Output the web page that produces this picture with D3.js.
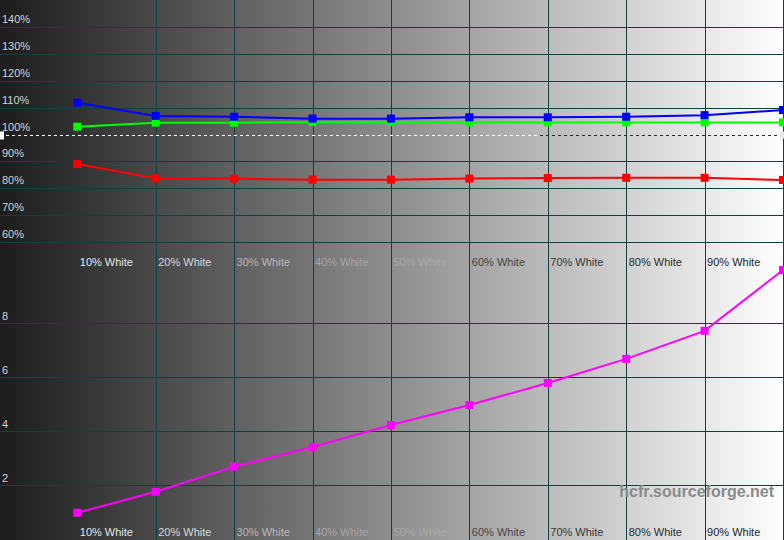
<!DOCTYPE html>
<html><head><meta charset="utf-8">
<script src="https://cdn.jsdelivr.net/npm/d3@7"></script>
<style>html,body{margin:0;padding:0;background:#fff;}svg{display:block;}</style>
</head><body>
<svg id="c" width="784" height="540"></svg>
<script>
const categories = [10,20,30,40,50,60,70,80,90,100];
const catLabels = ["10% White","20% White","30% White","40% White","50% White","60% White","70% White","80% White","90% White"];
const catLabelColors = ["#e4e4e4","#d8d8d8","#b8b8b8","#a6a6a6","#a8a8a8","#454545","#383838","#2c2c2c","#1e1e1e"];
const redVals   = [89.0,83.7,83.6,83.2,83.2,83.6,83.8,83.9,83.9,83.1];
const greenVals = [102.9,104.4,104.4,104.6,104.6,104.5,104.5,104.5,104.5,104.5];
const blueVals  = [111.8,106.9,106.6,105.9,105.9,106.4,106.4,106.6,107.2,109.1];
const deltaE    = [0.97,1.75,2.68,3.41,4.22,4.96,5.78,6.67,7.71,9.96];
const topTicks = [60,70,80,90,110,120,130,140];
const topLabelTicks = [60,70,80,90,100,110,120,130,140];
const botTicks = [2,4,6,8];

const W = 784, H = 540;
const svg = d3.select("#c");
const defs = svg.append("defs");
const grad = defs.append("linearGradient").attr("id","bg").attr("x1","0").attr("x2","1").attr("y1","0").attr("y2","0");
grad.append("stop").attr("offset","0").attr("stop-color","#1c1c1c");
grad.append("stop").attr("offset","1").attr("stop-color","#ffffff");
svg.append("rect").attr("width",W).attr("height",H).attr("fill","url(#bg)");

const x = d3.scaleLinear().domain([10,100]).range([77.3,783]);
const yTop = d3.scaleLinear().domain([50,150]).range([269,0]);
const yBot = d3.scaleLinear().domain([0,10]).range([539,269]);
const gridColor = "#163e3e";
const font = "'Liberation Sans', Arial, sans-serif";

// vertical gridlines
svg.append("g").selectAll("line").data(categories).join("line")
  .attr("x1",d=>Math.round(x(d))+0.5).attr("x2",d=>Math.round(x(d))+0.5)
  .attr("y1",0).attr("y2",H).attr("stroke",gridColor).attr("stroke-width",1);

// horizontal gridlines top
svg.append("g").selectAll("line").data(topTicks).join("line")
  .attr("x1",0).attr("x2",W)
  .attr("y1",d=>Math.round(yTop(d))+0.5).attr("y2",d=>Math.round(yTop(d))+0.5)
  .attr("stroke",gridColor);
// horizontal gridlines bottom
svg.append("g").selectAll("line").data(botTicks).join("line")
  .attr("x1",0).attr("x2",W)
  .attr("y1",d=>Math.round(yBot(d))+0.5).attr("y2",d=>Math.round(yBot(d))+0.5)
  .attr("stroke",gridColor);

// 100% reference dashed line
const y100 = Math.round(yTop(100))+0.5;
svg.append("line").attr("x1",0).attr("x2",540).attr("y1",y100).attr("y2",y100)
  .attr("stroke","#ffffff").attr("stroke-dasharray","3,3");
svg.append("line").attr("x1",540).attr("x2",W).attr("y1",y100).attr("y2",y100)
  .attr("stroke","#1a3030").attr("stroke-dasharray","3,3");
svg.append("rect").attr("x",0).attr("y",y100-4).attr("width",4).attr("height",8).attr("fill","#ffffff");
svg.append("rect").attr("x",W-4).attr("y",y100-4).attr("width",4).attr("height",7).attr("fill","#e8e8e8");

// y labels top
svg.append("g").selectAll("text").data(topLabelTicks).join("text")
  .attr("x",2).attr("y",d=>yTop(d)-4)
  .attr("font-family",font).attr("font-size",11).attr("fill","#d4d4d4")
  .text(d=>d+"%");
// y labels bottom
svg.append("g").selectAll("text").data(botTicks).join("text")
  .attr("x",2).attr("y",d=>yBot(d)-3.5)
  .attr("font-family",font).attr("font-size",11).attr("fill","#d4d4d4")
  .text(d=>d);

// category labels (both charts)
[265.5, 535.5].forEach(by => {
  svg.append("g").selectAll("text").data(catLabels).join("text")
    .attr("x",(d,i)=>x(categories[i])+2.5).attr("y",by)
    .attr("font-family",font).attr("font-size",11)
    .attr("fill",(d,i)=>catLabelColors[i])
    .text(d=>d);
});

// watermark
svg.append("text").attr("x",774).attr("y",497).attr("text-anchor","end")
  .attr("font-family",font).attr("font-weight","bold").attr("font-size",16)
  .attr("fill","#8a8a8a").text("hcfr.sourceforge.net");

function series(vals, yScale, color) {
  const data = categories.map((c,i)=>({c, v: vals[i]}));
  const line = d3.line().x(d=>x(d.c)).y(d=>yScale(d.v));
  svg.append("path").datum(data).attr("d",line).attr("fill","none")
    .attr("stroke",color).attr("stroke-width",2);
  svg.append("g").selectAll("rect").data(data).join("rect")
    .attr("x",d=>x(d.c)-4).attr("y",d=>yScale(d.v)-4)
    .attr("width",8).attr("height",8).attr("fill",color);
}
series(greenVals, yTop, "#00ff00");
series(blueVals, yTop, "#0000ff");
series(redVals, yTop, "#ff0000");
series(deltaE, yBot, "#ff00ff");
</script>
</body></html>
